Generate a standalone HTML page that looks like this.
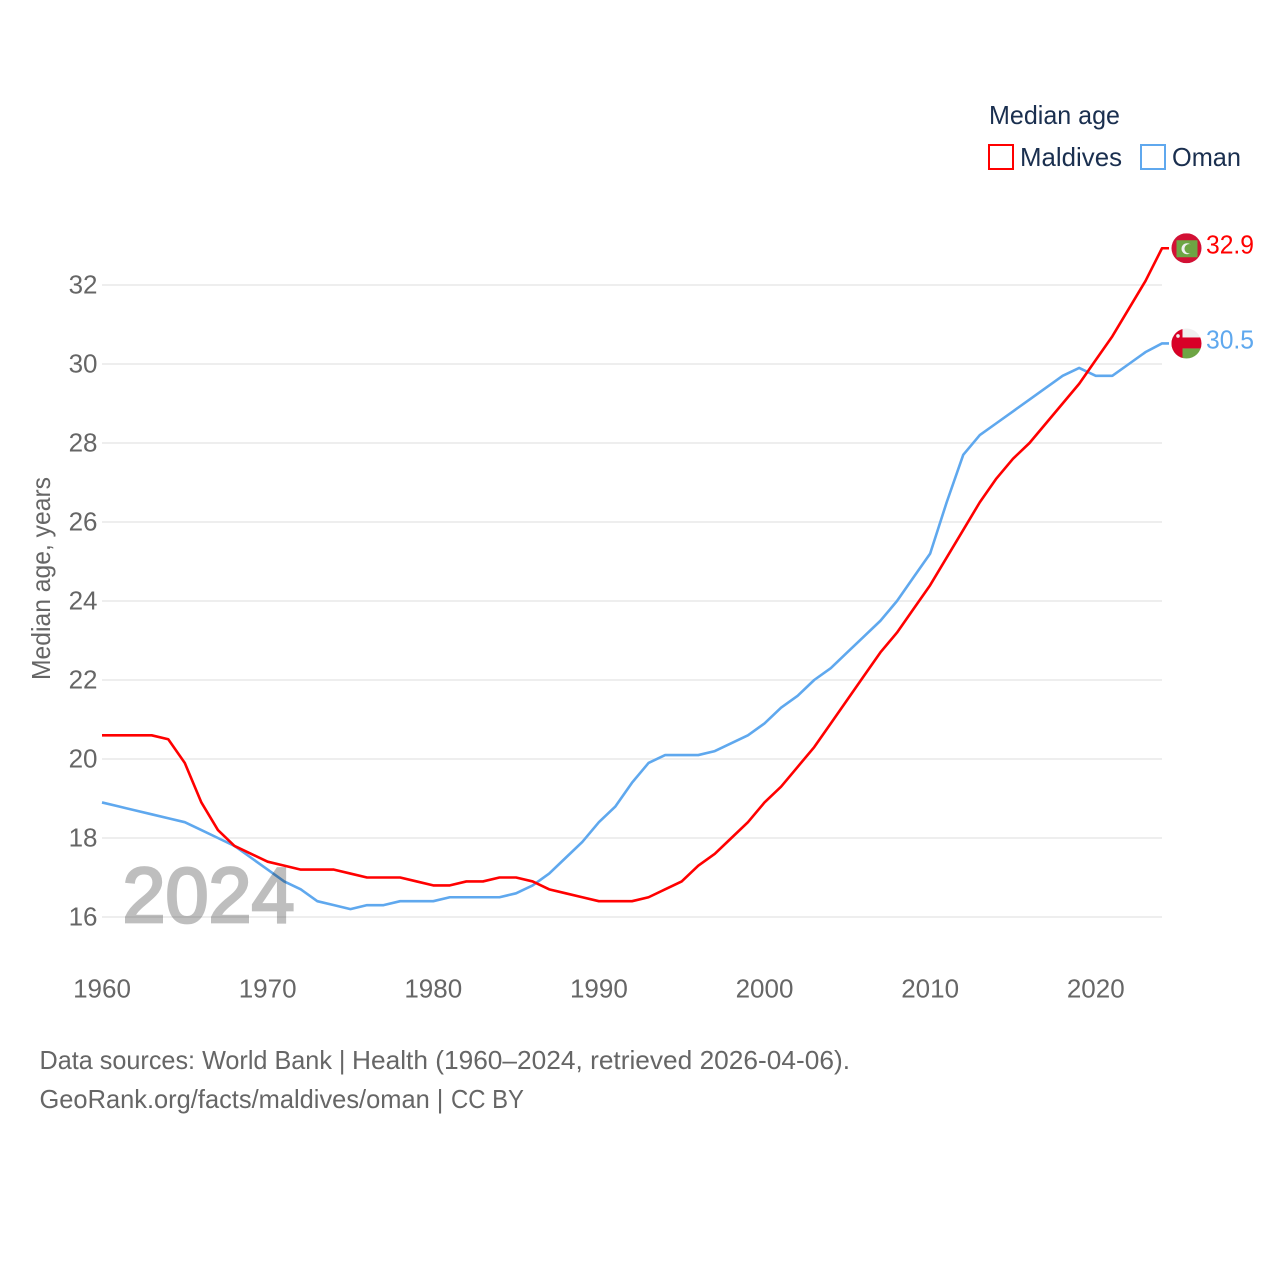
<!DOCTYPE html>
<html lang="en">
<head>
<meta charset="utf-8">
<title>Median age: Maldives and Oman</title>
<style>
html,body{margin:0;padding:0;background:#fff;width:1280px;height:1280px;overflow:hidden}
svg{display:block;font-family:"Liberation Sans",sans-serif}
</style>
</head>
<body>
<svg id="chart" xmlns="http://www.w3.org/2000/svg" width="1280" height="1280" viewBox="0 0 1280 1280">
  <defs>
    <clipPath id="flag-clip"><circle cx="0" cy="0" r="15"/></clipPath>
  </defs>
  <rect width="1280" height="1280" fill="#fff"/>
  <g id="grid"></g>
  <g id="yticks"></g>
  <g id="xticks"></g>
  <g id="series"></g>
  <text x="122.5" y="922" font-size="78" fill="#000" stroke="#000" stroke-width="2.8" opacity="0.25" textLength="172" lengthAdjust="spacingAndGlyphs">2024</text>
  <text transform="translate(50,680) rotate(-90)" font-size="26" fill="#666" textLength="203" lengthAdjust="spacingAndGlyphs">Median age, years</text>

  <g>
    <text x="989" y="124" font-size="26" fill="#1a2f4f" textLength="131" lengthAdjust="spacingAndGlyphs">Median age</text>
    <rect x="989" y="145" width="24" height="24" fill="#fff" stroke="#ff0000" stroke-width="2"/>
    <text x="1020" y="166" font-size="26" fill="#1a2f4f" textLength="102" lengthAdjust="spacingAndGlyphs">Maldives</text>
    <rect x="1141" y="145" width="24" height="24" fill="#fff" stroke="#5fa8ee" stroke-width="2"/>
    <text x="1172" y="166" font-size="26" fill="#1a2f4f" textLength="69" lengthAdjust="spacingAndGlyphs">Oman</text>
  </g>

  <g id="flag-maldives">
    <g clip-path="url(#flag-clip)">
      <rect x="-15" y="-15" width="30" height="30" fill="#d21034"/>
      <rect x="-10" y="-8" width="21" height="17" fill="#6da544"/>
      <circle cx="0.5" cy="0.5" r="5.5" fill="#f0f0f0"/>
      <circle cx="2.8" cy="0.5" r="4.8" fill="#6da544"/>
    </g>
  </g>
  <g id="flag-oman">
    <g clip-path="url(#flag-clip)">
      <rect x="-15" y="-15" width="30" height="9" fill="#f0f0f0"/>
      <rect x="-15" y="-6" width="30" height="11" fill="#d80027"/>
      <rect x="-15" y="5" width="30" height="10" fill="#6da544"/>
      <rect x="-15" y="-15" width="11" height="30" fill="#d80027"/>
      <circle cx="-8.5" cy="-7.5" r="1.8" fill="#f0f0f0"/>
    </g>
  </g>
  <text id="value-maldives" x="1206" font-size="26" fill="#ff0000" textLength="48" lengthAdjust="spacingAndGlyphs"></text>
  <text id="value-oman" x="1206" font-size="26" fill="#5fa8ee" textLength="48" lengthAdjust="spacingAndGlyphs"></text>

  <text y="1069" font-size="26" fill="#666"><tspan x="39.5" textLength="313" lengthAdjust="spacingAndGlyphs">Data sources: World Bank | </tspan><tspan x="352" textLength="498" lengthAdjust="spacingAndGlyphs">Health (1960–2024, retrieved 2026-04-06).</tspan></text>
  <text y="1108" font-size="26" fill="#666"><tspan x="39.5" textLength="411" lengthAdjust="spacingAndGlyphs">GeoRank.org/facts/maldives/oman | </tspan><tspan x="451" textLength="73" lengthAdjust="spacingAndGlyphs">CC BY</tspan></text>
</svg>
<script>
const startYear = 1960;
const yTickLabels = [16, 18, 20, 22, 24, 26, 28, 30, 32];
const xTickLabels = [1960, 1970, 1980, 1990, 2000, 2010, 2020];
const maldivesValues = [20.6,20.6,20.6,20.6,20.5,19.9,18.9,18.2,17.8,17.6,17.4,17.3,17.2,17.2,17.2,17.1,17.0,17.0,17.0,16.9,16.8,16.8,16.9,16.9,17.0,17.0,16.9,16.7,16.6,16.5,16.4,16.4,16.4,16.5,16.7,16.9,17.3,17.6,18.0,18.4,18.9,19.3,19.8,20.3,20.9,21.5,22.1,22.7,23.2,23.8,24.4,25.1,25.8,26.5,27.1,27.6,28.0,28.5,29.0,29.5,30.1,30.7,31.4,32.1,32.93];
const omanValues = [18.9,18.8,18.7,18.6,18.5,18.4,18.2,18.0,17.8,17.5,17.2,16.9,16.7,16.4,16.3,16.2,16.3,16.3,16.4,16.4,16.4,16.5,16.5,16.5,16.5,16.6,16.8,17.1,17.5,17.9,18.4,18.8,19.4,19.9,20.1,20.1,20.1,20.2,20.4,20.6,20.9,21.3,21.6,22.0,22.3,22.7,23.1,23.5,24.0,24.6,25.2,26.5,27.7,28.2,28.5,28.8,29.1,29.4,29.7,29.9,29.7,29.7,30.0,30.3,30.52];

const NS = 'http://www.w3.org/2000/svg';
const plotLeft = 102, plotRight = 1162;
function xScale(year) { return plotLeft + (year - 1960) * (plotRight - plotLeft) / 64; }
function yScale(v) { return 917 - (v - 16) * (917 - 285) / 16; }

const gridGroup = document.getElementById('grid');
const yGroup = document.getElementById('yticks');
const xGroup = document.getElementById('xticks');
const seriesGroup = document.getElementById('series');

yTickLabels.forEach(function (t) {
  const line = document.createElementNS(NS, 'line');
  
  
  line.setAttribute('x1', plotLeft);
  line.setAttribute('x2', plotRight);
  line.setAttribute('y1', yScale(t));
  line.setAttribute('y2', yScale(t));
  line.setAttribute('stroke', '#e9e9e9');
  line.setAttribute('stroke-width', '1.5');
  gridGroup.appendChild(line);

  const label = document.createElementNS(NS, 'text');
  
  
  label.setAttribute('x', 97.5);
  label.setAttribute('y', yScale(t) + 8.5);
  label.setAttribute('text-anchor', 'end');
  label.setAttribute('font-size', '26');
  label.setAttribute('fill', '#666');
  label.textContent = t;
  yGroup.appendChild(label);
});

xTickLabels.forEach(function (t) {
  const label = document.createElementNS(NS, 'text');
  
  
  label.setAttribute('x', xScale(t));
  label.setAttribute('y', 997.5);
  label.setAttribute('text-anchor', 'middle');
  label.setAttribute('font-size', '26');
  label.setAttribute('fill', '#666');
  label.textContent = t;
  xGroup.appendChild(label);
});

function buildPath(values) {
  const parts = values.map(function (v, i) {
    return (i ? 'L' : 'M') + xScale(startYear + i).toFixed(2) + ' ' + yScale(v).toFixed(2);
  });
  const last = values[values.length - 1];
  return parts.join(' ') + ' L1169 ' + yScale(last).toFixed(2);
}

const omanLine = document.createElementNS(NS, 'path');


omanLine.setAttribute('d', buildPath(omanValues));
omanLine.setAttribute('fill', 'none');
omanLine.setAttribute('stroke', '#5fa8ee');
omanLine.setAttribute('stroke-width', '2.6');
omanLine.setAttribute('stroke-linejoin', 'round');
seriesGroup.appendChild(omanLine);

const maldivesLine = document.createElementNS(NS, 'path');


maldivesLine.setAttribute('d', buildPath(maldivesValues));
maldivesLine.setAttribute('fill', 'none');
maldivesLine.setAttribute('stroke', '#ff0000');
maldivesLine.setAttribute('stroke-width', '2.6');
maldivesLine.setAttribute('stroke-linejoin', 'round');
seriesGroup.appendChild(maldivesLine);

const lastMaldives = maldivesValues[maldivesValues.length - 1];
const lastOman = omanValues[omanValues.length - 1];
document.getElementById('flag-maldives').setAttribute('transform', 'translate(1186.5,' + yScale(lastMaldives).toFixed(2) + ')');
document.getElementById('flag-oman').setAttribute('transform', 'translate(1186.5,' + yScale(lastOman).toFixed(2) + ')');
const valueMaldives = document.getElementById('value-maldives');
valueMaldives.setAttribute('y', yScale(lastMaldives) + 5.2);
valueMaldives.textContent = lastMaldives.toFixed(1);
const valueOman = document.getElementById('value-oman');
valueOman.setAttribute('y', yScale(lastOman) + 5.2);
valueOman.textContent = lastOman.toFixed(1);
</script>
</body>
</html>
